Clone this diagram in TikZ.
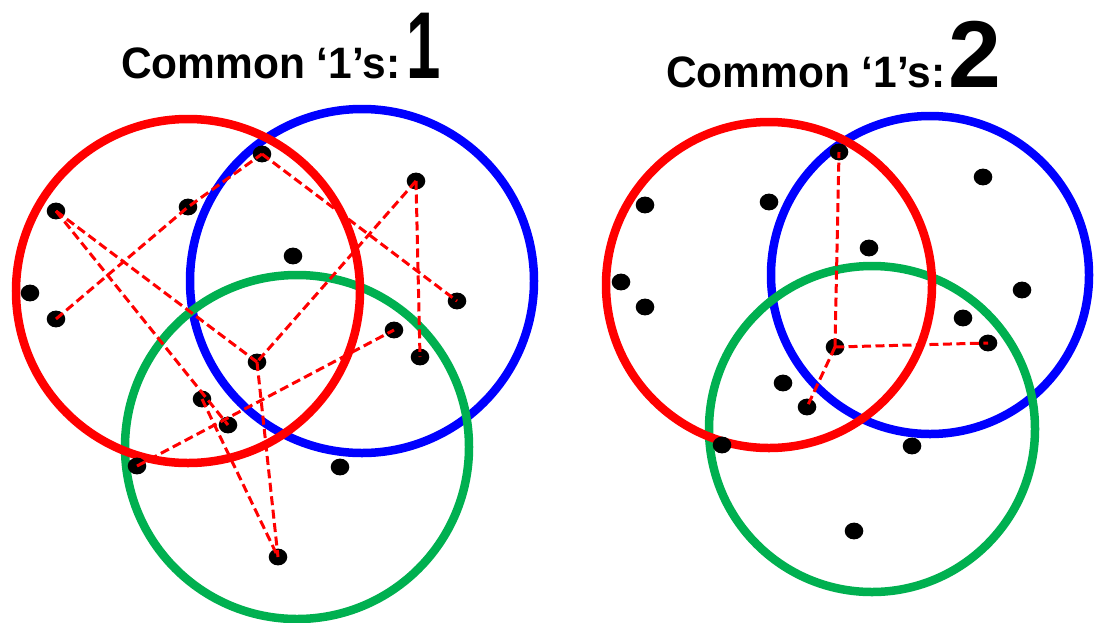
\documentclass[tikz,border=0pt]{standalone}
\usepackage{fontspec}
\setmainfont{Liberation Sans}
\usetikzlibrary{shapes.geometric}
\definecolor{vred}{RGB}{255,0,0}
\definecolor{vblue}{RGB}{0,0,255}
\definecolor{vgreen}{RGB}{0,176,80}
\tikzset{
  ring/.style={line width=8.5pt},
  dot/.style={ellipse, fill=black, draw=none, minimum width=18.6pt, minimum height=16.8pt, inner sep=0pt},
  link/.style={vred, line width=3pt, dash pattern=on 9pt off 4.5pt},
  title/.style={anchor=base west, inner sep=0pt, outer sep=0pt, font=\bfseries\fontsize{44}{50}\selectfont},
  digit/.style={anchor=base west, inner sep=0pt, outer sep=0pt, font=\bfseries\fontsize{95}{95}\selectfont},
}
\begin{document}
\begin{tikzpicture}[x=1pt,y=-1pt]
\useasboundingbox (0,0) rectangle (1094,622);
\fill[white] (0,0) rectangle (1094,622);
% titles
\node[title] (t1) at (121,78) {\scalebox{0.965}[1]{Common ‘1’s:}};
\node[digit] (d1) at (406,78) {\scalebox{0.65}[1]{1}};
\node[title] (t2) at (666,87) {\scalebox{0.965}[1]{Common ‘1’s:}};
\node[digit] (d2) at (948,87) {2};
% left circles
\draw[ring,vblue] (362,281) circle (172);
\draw[ring,vgreen] (297,447) circle (172);
\draw[ring,vred] (188,291) circle (172);
% right circles
\draw[ring,vblue] (930,275) circle (159);
\draw[ring,vgreen] (872,429) circle (163);
\draw[ring,vred] (769,285) circle (163);
% left dots
\node[dot] (a1) at (262,154) {};
\node[dot] (a2) at (188,207) {};
\node[dot] (a3) at (56,211) {};
\node[dot] (a4) at (30,293) {};
\node[dot] (a5) at (56,319) {};
\node[dot] (a6) at (416,181) {};
\node[dot] (a7) at (293,256) {};
\node[dot] (a8) at (457,301) {};
\node[dot] (a9) at (394,330) {};
\node[dot] (a10) at (420,357) {};
\node[dot] (a11) at (257,362) {};
\node[dot] (a12) at (202,399) {};
\node[dot] (a13) at (228,425) {};
\node[dot] (a14) at (137,466) {};
\node[dot] (a15) at (340,467) {};
\node[dot] (a16) at (278,557) {};
% right dots
\node[dot] (b1) at (645,205) {};
\node[dot] (b2) at (769,202) {};
\node[dot] (b3) at (621,282) {};
\node[dot] (b4) at (645,307) {};
\node[dot] (b5) at (839,152) {};
\node[dot] (b6) at (869,248) {};
\node[dot] (b7) at (983,177) {};
\node[dot] (b8) at (1022,290) {};
\node[dot] (b9) at (963,318) {};
\node[dot] (b10) at (988,343) {};
\node[dot] (b11) at (835,347) {};
\node[dot] (b12) at (783,383) {};
\node[dot] (b13) at (807,407) {};
\node[dot] (b14) at (722,445) {};
\node[dot] (b15) at (912,446) {};
\node[dot] (b16) at (854,531) {};
% left links
\draw[link] (a5.center) -- (a2.center) -- (a1.center);
\draw[link] (a1.center) -- (a8.center);
\draw[link] (a6.center) -- (a11.center);
\draw[link] (a6.center) -- (a10.center);
\draw[link] (a3.center) -- (a11.center);
\draw[link] (a3.center) -- (a13.center);
\draw[link] (a11.center) -- (a16.center);
\draw[link] (a12.center) -- (a16.center);
\draw[link] (a14.center) -- (a9.center);
% right links
\draw[link] (b11.center) -- (b5.center);
\draw[link] (b11.center) -- (b10.center);
\draw[link] (b11.center) -- (b13.center);
\end{tikzpicture}
\end{document}
